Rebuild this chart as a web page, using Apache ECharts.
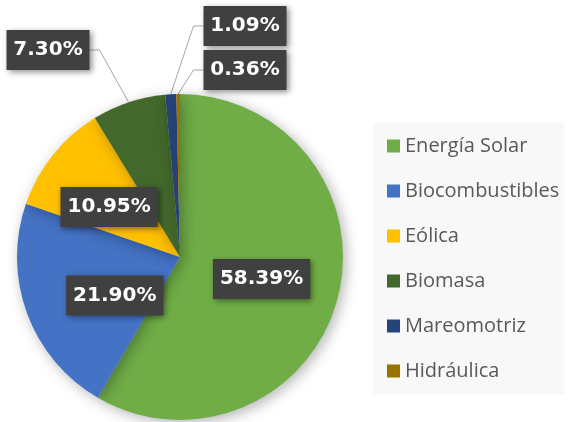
<!DOCTYPE html>
<html lang="es">
<head>
    <meta charset="UTF-8">
    <title>Energías</title>
    <script src="https://cdn.jsdelivr.net/npm/echarts@6/dist/echarts.min.js"></script>
    <style>
        html, body { margin: 0; padding: 0; background: #fff; }
    </style>
</head>
<body>
    <div id="chart" style="width: 573px; height: 422px;"></div>
    <script>
        // datos
        var nombres = ['Energía Solar', 'Biocombustibles', 'Eólica', 'Biomasa', 'Mareomotriz', 'Hidráulica']
        var valores = [58.39, 21.90, 10.95, 7.30, 1.09, 0.36]
        var colores = ['#70AD47', '#4472C4', '#FFC000', '#43682B', '#264478', '#997300']

        // donde van las etiquetas de las porciones pequeñas
        var etiquetasFuera = {
            3: [48, 50],
            4: [245, 26],
            5: [245, 70]
        }
        // pequeños ajustes de las etiquetas de dentro
        var ajustesDentro = {
            1: [14, 9],
            2: [-5, 3]
        }

        var datos = nombres.map(function (n, i) {
            var fuera = i >= 3
            return {
                name: n,
                value: valores[i],
                itemStyle: { color: colores[i] },
                label: fuera ? { position: 'outside', width: 69, align: 'center' } : { position: 'inside' },
                labelLine: { show: fuera }
            }
        })

        var ch = echarts.init(document.getElementById('chart'))
        var options = {
            animation: false,
            backgroundColor: '#fff',
            legend: {
                orient: 'vertical',
                left: 373,
                top: 123,
                padding: [13, 5, 13, 14],
                backgroundColor: '#f8f8f8',
                itemWidth: 13,
                itemHeight: 13,
                itemGap: 25,
                icon: 'rect',
                data: nombres,
                textStyle: {
                    color: '#595959',
                    fontSize: 20,
                    fontFamily: 'Open Sans'
                }
            },
            series: [{
                type: 'pie',
                center: [180, 257],
                radius: 163,
                startAngle: 90,
                clockwise: true,
                emphasis: { scale: false },
                itemStyle: {
                    shadowBlur: 14,
                    shadowColor: 'rgba(0,0,0,0.3)',
                    shadowOffsetX: 3,
                    shadowOffsetY: 3
                },
                label: {
                    show: true,
                    overflow: 'none',
                    formatter: function (p) {
                        return p.value.toFixed(2) + '%'
                    },
                    color: '#fff',
                    fontSize: 20,
                    lineHeight: 20,
                    fontWeight: 'bold',
                    fontFamily: 'DejaVu Sans',
                    backgroundColor: '#404040',
                    padding: [10, 7, 10, 7],
                    shadowBlur: 6,
                    shadowColor: 'rgba(0,0,0,0.45)',
                    shadowOffsetX: 2,
                    shadowOffsetY: 2
                },
                labelLine: {
                    lineStyle: { color: '#a6a6a6', width: 1 },
                    length: 10,
                    length2: 10
                },
                labelLayout: function (p) {
                    var s = etiquetasFuera[p.dataIndex]
                    if (s) {
                        return {
                            x: s[0],
                            y: s[1],
                            align: 'center',
                            verticalAlign: 'middle'
                        }
                    }
                    var a = ajustesDentro[p.dataIndex]
                    if (a) return { dx: a[0], dy: a[1] }
                    return {}
                },
                data: datos
            }]
        }
        ch.setOption(options)
    </script>
</body>
</html>
